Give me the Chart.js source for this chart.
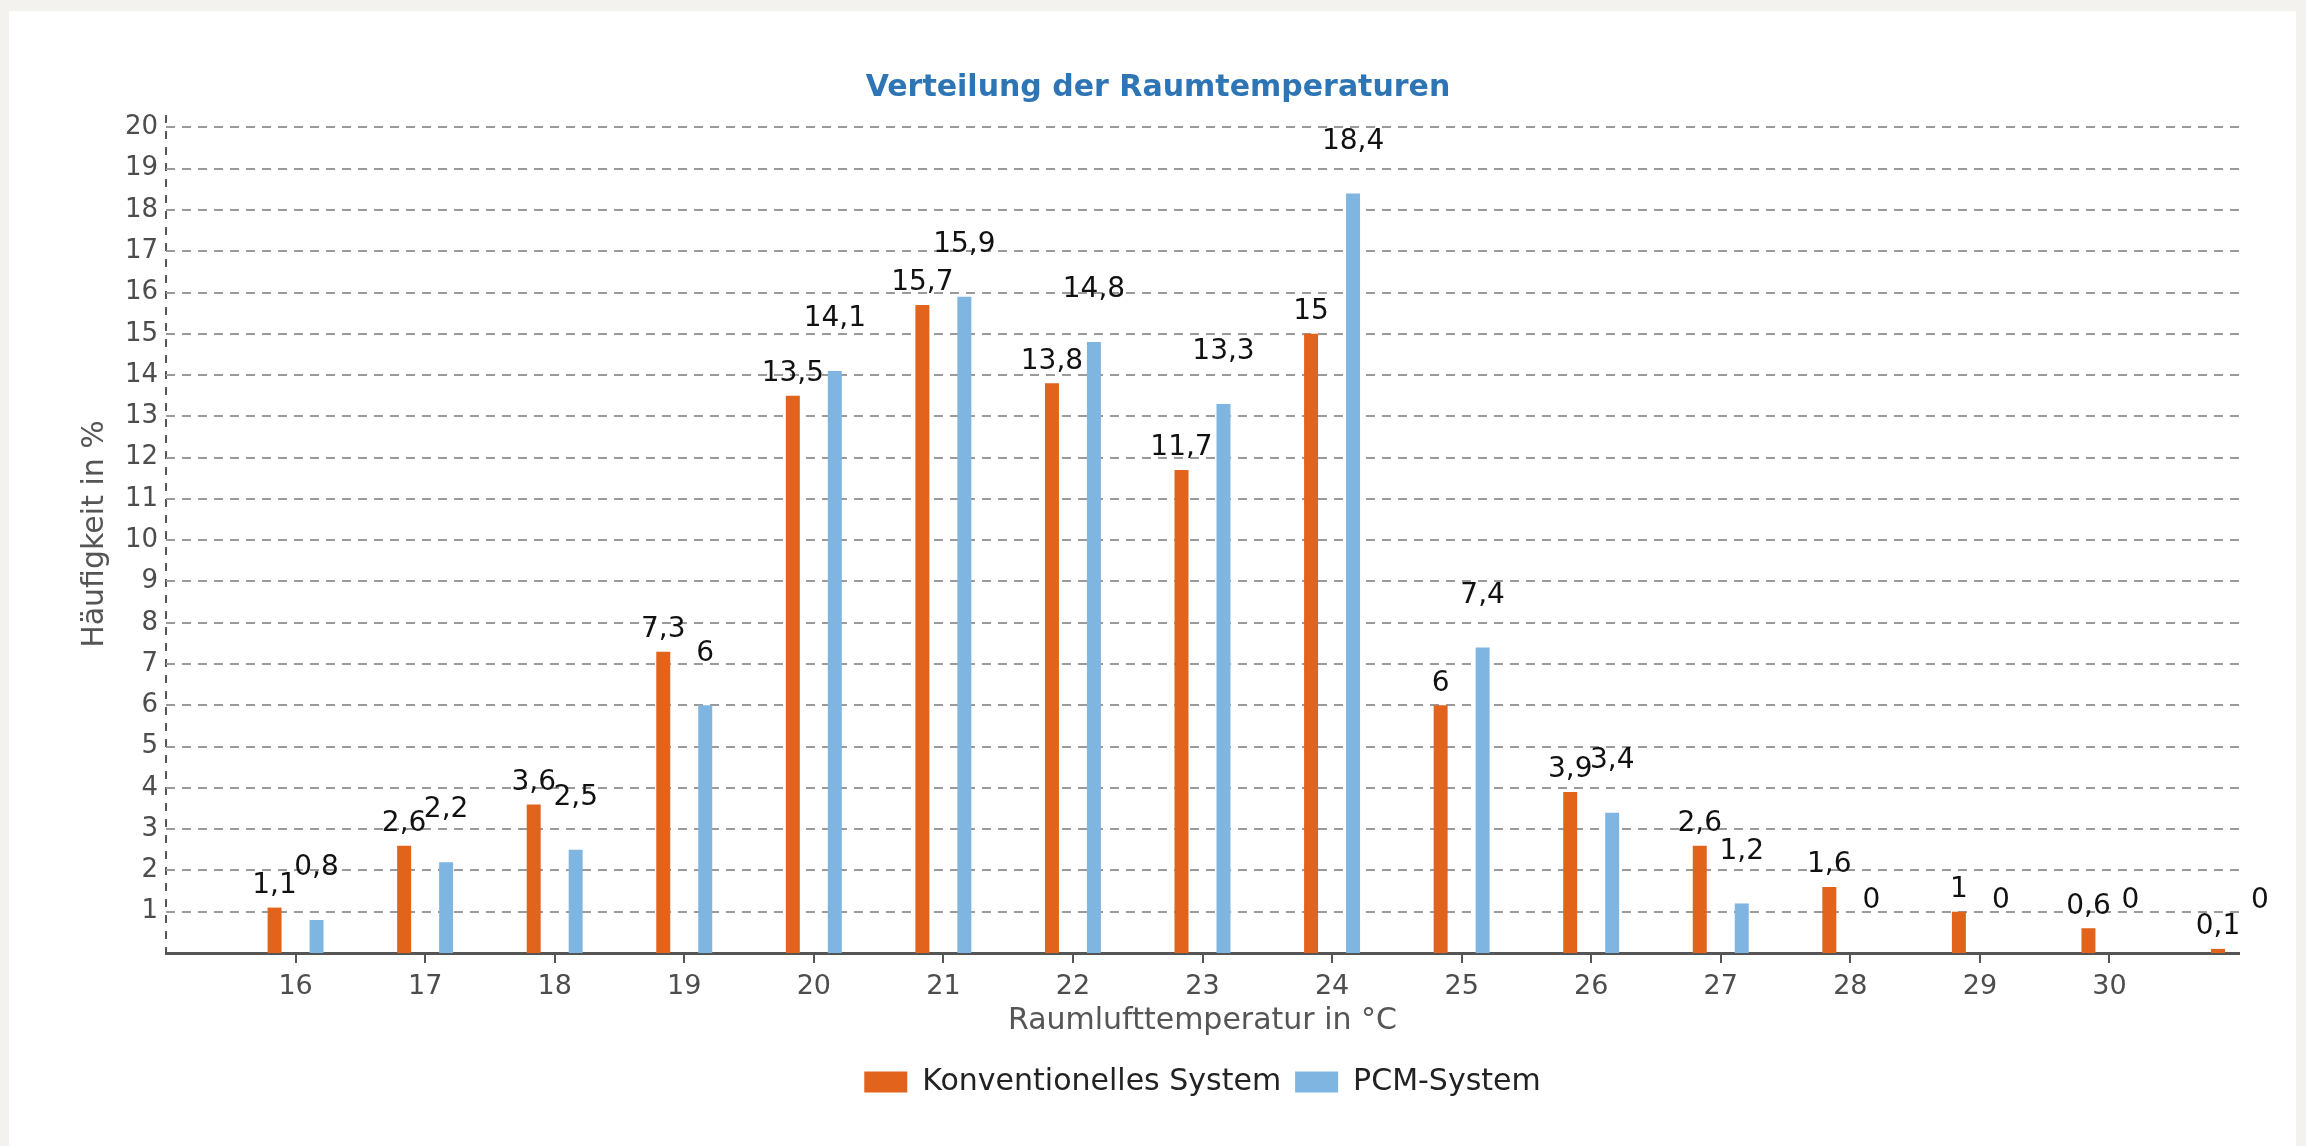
<!DOCTYPE html>
<html>
<head>
<meta charset="utf-8">
<title>Verteilung der Raumtemperaturen</title>
<script src="https://cdn.jsdelivr.net/npm/chart.js@4.4.1/dist/chart.umd.min.js"></script>
<style>
  html, body { margin: 0; padding: 0; }
  body { width: 2306px; height: 1146px; background: #f3f2ee; position: relative; overflow: hidden; }
  .panel { position: absolute; left: 9px; top: 11px; right: 10px; bottom: 0; background: #fff; }
  #chart { position: absolute; left: 0; top: 0; }
</style>
</head>
<body>
<div class="panel"></div>
<canvas id="chart" width="2306" height="1146"></canvas>
<script>
// Raumlufttemperatur in °C (letzte Klasse ohne Beschriftung)
const temperatures = [16, 17, 18, 19, 20, 21, 22, 23, 24, 25, 26, 27, 28, 29, 30, 31];
const xTickLabels = ['16', '17', '18', '19', '20', '21', '22', '23', '24', '25', '26', '27', '28', '29', '30'];

// Häufigkeit in %
const konventionell = [1.1, 2.6, 3.6, 7.3, 13.5, 15.7, 13.8, 11.7, 15, 6, 3.9, 2.6, 1.6, 1, 0.6, 0.1];
const pcm = [0.8, 2.2, 2.5, 6, 14.1, 15.9, 14.8, 13.3, 18.4, 7.4, 3.4, 1.2, 0, 0, 0, 0];

const orange = '#e2631c';
const blue = '#7fb5e1';

Chart.defaults.font.family = 'DejaVu Sans';

// Werte über den Balken (Komma als Dezimaltrenner)
const valueLabels = {
    id: 'valueLabels',
    afterDatasetsDraw(chart) {
        const ctx = chart.ctx;
        const lift = [22, 52];
        ctx.save();
        ctx.font = '28px "DejaVu Sans"';
        ctx.fillStyle = '#111';
        ctx.textAlign = 'center';
        ctx.textBaseline = 'middle';
        chart.data.datasets.forEach((ds, i) => {
            chart.getDatasetMeta(i).data.forEach((bar, j) => {
                const txt = String(ds.data[j].y).replace('.', ',');
                ctx.fillText(txt, bar.x, bar.y - lift[i]);
            });
        });
        ctx.restore();
    }
};

const toPoints = (vals) => vals.map((v, i) => ({ x: temperatures[i], y: v }));

new Chart(document.getElementById('chart'), {
    type: 'bar',
    data: {
        datasets: [{
            label: 'Konventionelles System',
            data: toPoints(konventionell),
            backgroundColor: orange,
            borderWidth: 0
        }, {
            label: 'PCM-System',
            data: toPoints(pcm),
            backgroundColor: blue,
            borderWidth: 0
        }]
    },
    options: {
        responsive: false,
        animation: false,
        devicePixelRatio: 1,
        categoryPercentage: 0.648,
        barPercentage: 0.333,
        layout: {
            padding: { left: 77, right: 67, top: 0, bottom: 39 }
        },
        scales: {
            x: {
                type: 'linear',
                min: 15,
                max: 31,
                offset: false,
                afterFit(scale) { scale.height = 100; },
                ticks: {
                    stepSize: 1,
                    autoSkip: false,
                    maxRotation: 0,
                    padding: 8,
                    color: '#4d4d4d',
                    font: { size: 27 },
                    callback: (v) => xTickLabels.includes(String(v)) ? String(v) : ''
                },
                grid: {
                    offset: false,
                    drawOnChartArea: true,
                    drawTicks: true,
                    tickLength: 10,
                    lineWidth: 2,
                    // only the left edge line is drawn: it serves as dashed y axis
                    color: (c) => c.tick && c.tick.value === 15 ? '#555' : 'rgba(0,0,0,0)',
                    tickColor: (c) => c.tick && xTickLabels.includes(String(c.tick.value)) ? '#555' : 'rgba(0,0,0,0)'
                },
                border: { display: true, color: '#555', width: 3, dash: [8, 8] },
                title: {
                    display: true,
                    text: 'Raumlufttemperatur in °C',
                    color: '#555',
                    font: { size: 30 },
                    padding: { top: 0, bottom: 14 }
                }
            },
            y: {
                min: 0,
                max: 20.3,
                afterFit(scale) { scale.width = 89; },
                afterBuildTicks(scale) {
                    scale.ticks = scale.ticks.filter(t => t.value >= 1 && Number.isInteger(t.value));
                },
                ticks: {
                    stepSize: 1,
                    includeBounds: false,
                    padding: 8,
                    color: '#4d4d4d',
                    font: { size: 26 }
                },
                grid: {
                    drawTicks: false,
                    lineWidth: 2,
                    color: '#9a9a9a'
                },
                border: { display: false, dash: [9, 7] },
                title: {
                    display: true,
                    text: 'Häufigkeit in %',
                    color: '#555',
                    font: { size: 30 },
                    padding: { top: 0, bottom: 0 }
                }
            }
        },
        plugins: {
            title: {
                display: true,
                text: 'Verteilung der Raumtemperaturen',
                color: '#2e75b5',
                font: { size: 30, weight: 'bold' },
                padding: { top: 70, bottom: 9 }
            },
            legend: {
                position: 'bottom',
                fullSize: false,
                labels: {
                    boxWidth: 43,
                    boxHeight: 21,
                    padding: 14,
                    color: '#222',
                    font: { size: 30 }
                }
            },
            tooltip: { enabled: false }
        }
    },
    plugins: [valueLabels]
});
</script>
</body>
</html>
